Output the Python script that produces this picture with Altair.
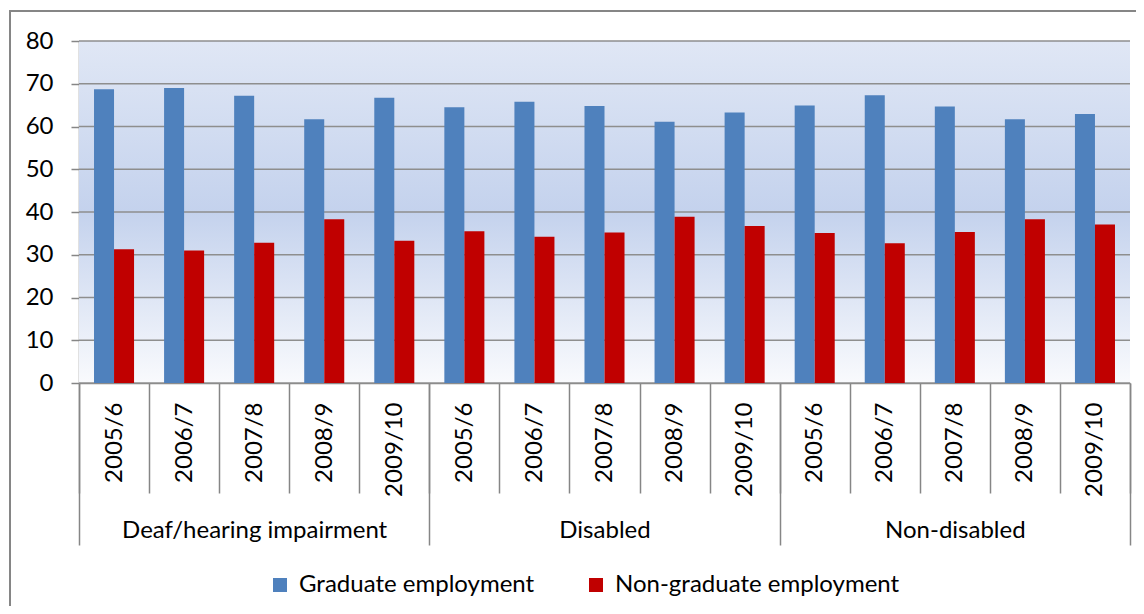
import altair as alt
import pandas as pd

groups = ["Deaf/hearing impairment", "Disabled", "Non-disabled"]
years = ["2005/6", "2006/7", "2007/8", "2008/9", "2009/10"]
series = ["Graduate employment", "Non-graduate employment"]

graduate_deaf = [68.7, 69.0, 67.2, 61.7, 66.7]
graduate_disabled = [64.5, 65.8, 64.8, 61.1, 63.3]
graduate_nondisabled = [64.9, 67.3, 64.7, 61.7, 62.9]
nongrad_deaf = [31.3, 31.0, 32.8, 38.3, 33.3]
nongrad_disabled = [35.5, 34.2, 35.2, 38.9, 36.7]
nongrad_nondisabled = [35.1, 32.7, 35.3, 38.3, 37.1]

y_ticks = [0, 10, 20, 30, 40, 50, 60, 70, 80]

graduate = [graduate_deaf, graduate_disabled, graduate_nondisabled]
nongrad = [nongrad_deaf, nongrad_disabled, nongrad_nondisabled]

rows = []
keys = []
for gi, g in enumerate(groups):
    for yi, yr in enumerate(years):
        k = g + "|" + yr
        keys.append(k)
        rows.append({"key": k, "series": series[0], "value": graduate[gi][yi]})
        rows.append({"key": k, "series": series[1], "value": nongrad[gi][yi]})
df = pd.DataFrame(rows)
gdf = pd.DataFrame({"group": groups})
tdf = pd.DataFrame({"v": y_ticks})

W, H = 1051, 342
FONT = "Lato"
GRAY = "#868686"

yscale = alt.Scale(domain=[0, 80], nice=False)
yaxis = alt.Axis(
    title=None,
    values=y_ticks,
    grid=False,
    tickSize=8,
    tickWidth=1.5,
    tickColor=GRAY,
    domainColor=GRAY,
    domainWidth=1.5,
    labelPadding=18,
    labelFont=FONT,
    labelFontSize=24,
    labelColor="black",
)

background = alt.Chart(tdf).mark_rect(
    fill=alt.LinearGradient(
        gradient="linear",
        stops=[
            alt.GradientStop(offset=0, color="#E0E7F5"),
            alt.GradientStop(offset=0.5, color="#C4D2ED"),
            alt.GradientStop(offset=1, color="#F9FAFD"),
        ],
        x1=0, x2=0, y1=0, y2=1,
    )
).encode(
    x=alt.value(0), x2=alt.value(W), y=alt.value(0), y2=alt.value(H)
)

border = alt.Chart(tdf).mark_rect(
    fillOpacity=0, stroke=GRAY, strokeWidth=1.2
).encode(
    x=alt.value(-69), x2=alt.value(W + 40), y=alt.value(-30), y2=alt.value(H + 260)
)

grid = alt.Chart(tdf).mark_rule(color="#8E8E8E", strokeWidth=1.5).encode(
    y=alt.Y("v:Q", scale=yscale, axis=yaxis)
)

bars = alt.Chart(df).mark_bar().encode(
    x=alt.X(
        "key:N",
        sort=keys,
        scale=alt.Scale(paddingInner=0, paddingOuter=0),
        axis=alt.Axis(
            orient="bottom",
            title=None,
            labelExpr="split(datum.value, '|')[1]",
            labelAngle=-90,
            labelAlign="right",
            labelBaseline="middle",
            labelOverlap=False,
            labelLimit=0,
            tickBand="extent",
            tickSize=110,
            tickWidth=1.5,
            tickColor=GRAY,
            domainColor=GRAY,
            domainWidth=1.5,
            labelPadding=-91,
            labelFont=FONT,
            labelFontSize=24,
            labelColor="black",
        ),
    ),
    xOffset=alt.XOffset("series:N", sort=series, scale=alt.Scale(paddingOuter=0.75, paddingInner=0)),
    y=alt.Y("value:Q", scale=yscale, axis=yaxis),
    color=alt.Color(
        "series:N",
        sort=series,
        scale=alt.Scale(domain=series, range=["#4F81BD", "#C00000"]),
        legend=alt.Legend(
            title=None,
            orient="none",
            direction="horizontal",
            legendX=189,
            legendY=532,
            symbolType="square",
            symbolSize=196,
            symbolStrokeWidth=0,
            labelFont=FONT,
            labelFontSize=24,
            labelColor="black",
            labelOffset=7,
            labelLimit=0,
            columnPadding=49,
        ),
    ),
)

group_axis = alt.Chart(gdf).mark_bar(opacity=0).encode(
    x=alt.X(
        "group:N",
        sort=groups,
        scale=alt.Scale(paddingInner=0, paddingOuter=0),
        axis=alt.Axis(
            orient="bottom",
            title=None,
            domain=False,
            labelAngle=0,
            labelAlign="center",
            labelBaseline="middle",
            labelLimit=0,
            tickBand="extent",
            tickSize=162,
            tickWidth=1.5,
            tickColor=GRAY,
            labelPadding=-15,
            labelFont=FONT,
            labelFontSize=24,
            labelColor="black",
        ),
    )
)

chart = alt.layer(background, border, grid, bars, group_axis).resolve_scale(
    x="independent"
).properties(
    width=W,
    height=H,
    autosize=alt.AutoSizeParams(type="none"),
    padding={"left": 71, "top": 33, "right": 6, "bottom": 223},
).configure_view(stroke=None)

chart.save("out.html", embed_options={"renderer": "svg", "actions": False})
